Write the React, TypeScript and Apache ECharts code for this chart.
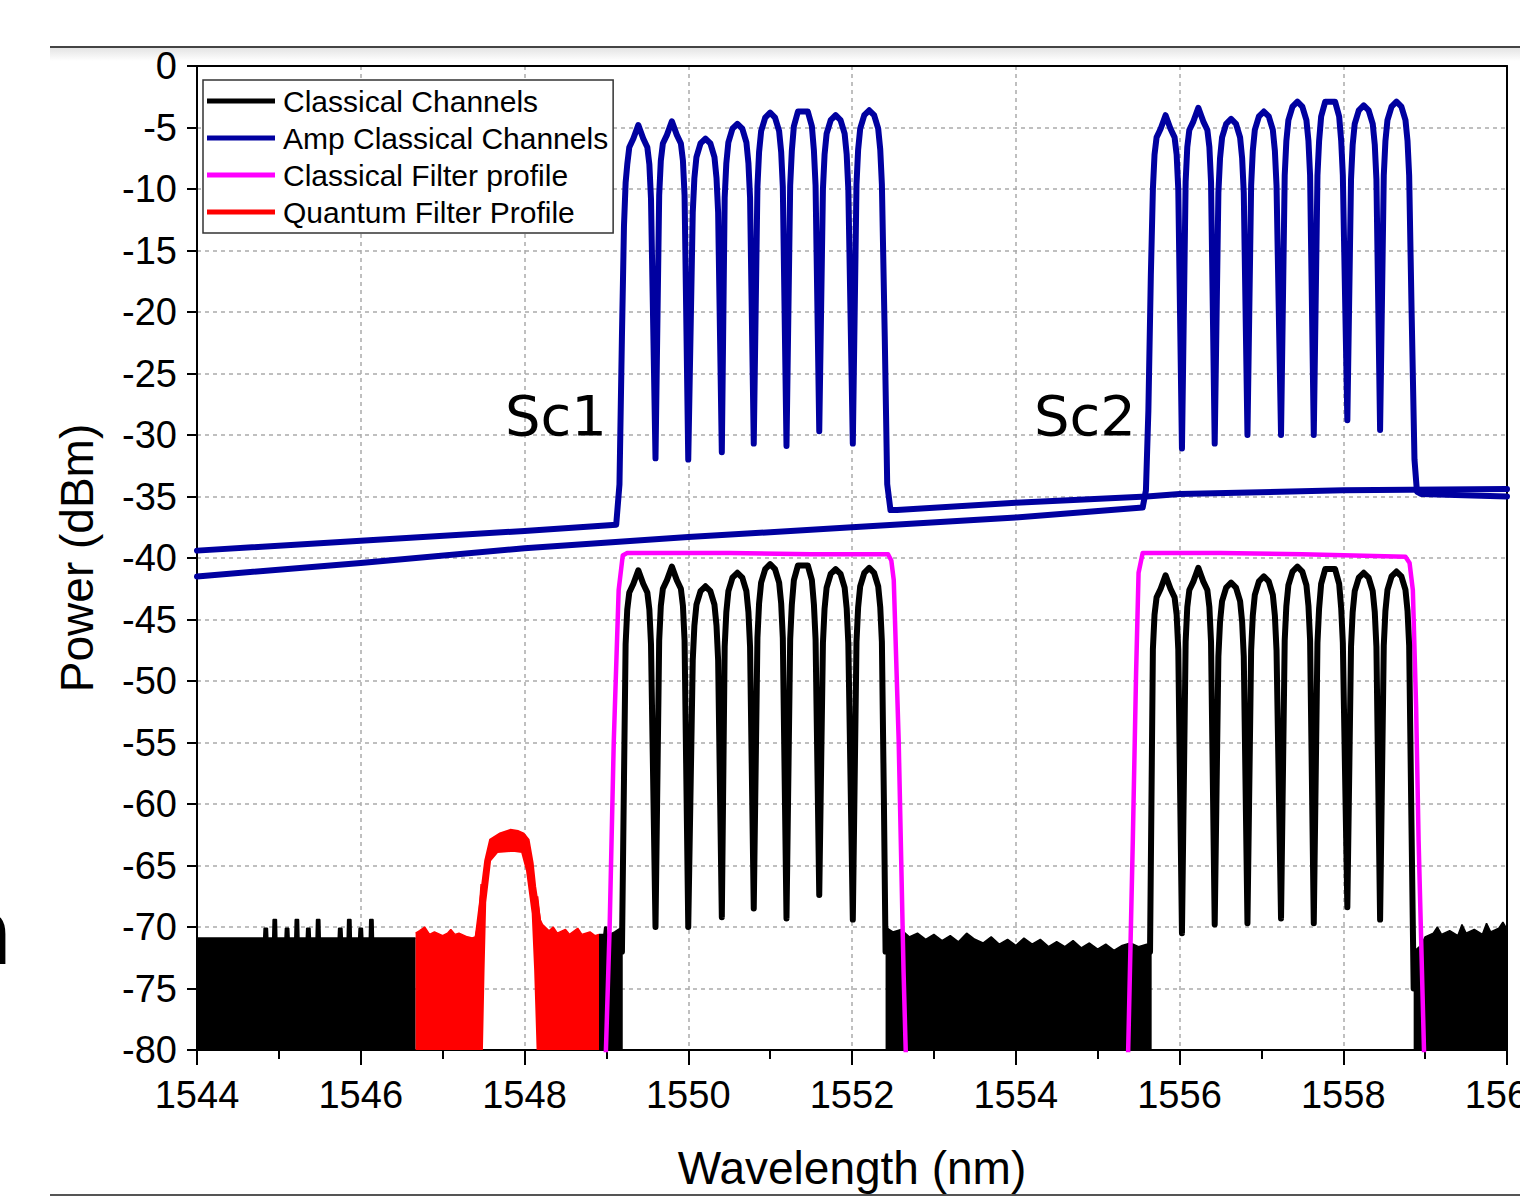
import React, { useEffect, useRef } from 'react';
import * as echarts from 'echarts';

type Pt = (number | string)[];

// Amplified classical channels: trace carrying sub-band Sc1
const blueTraceA: Pt[] = [
  [1544, -39.4], [1546, -38.6], [1548, -37.8], [1549.12, -37.3],
  [1549.16, -34.0], [1549.19, -22.0], [1549.215, -13.0],
  [1549.235, -9.5], [1549.255, -8.0], [1549.28, -6.6], [1549.33, -5.9], [1549.39, -4.8], [1549.45, -5.9], [1549.50, -6.6], [1549.525, -8.0], [1549.545, -10.8],
  [1549.60, -31.9],
  [1549.645, -10.5], [1549.665, -7.7], [1549.69, -6.3], [1549.74, -5.6], [1549.80, -4.5], [1549.86, -5.6], [1549.91, -6.3], [1549.935, -7.7], [1549.955, -10.5],
  [1550.00, -32.0],
  [1550.055, -11.9], [1550.075, -9.1], [1550.10, -7.4], [1550.15, -6.3], [1550.21, -5.9], [1550.27, -6.3], [1550.32, -7.4], [1550.345, -9.1], [1550.365, -11.9],
  [1550.41, -31.4],
  [1550.445, -10.7], [1550.465, -7.9], [1550.49, -6.2], [1550.54, -5.1], [1550.60, -4.7], [1550.66, -5.1], [1550.71, -6.2], [1550.735, -7.9], [1550.755, -10.7],
  [1550.80, -30.7],
  [1550.845, -9.8], [1550.865, -7.0], [1550.89, -5.3], [1550.94, -4.2], [1551.00, -3.8], [1551.06, -4.2], [1551.11, -5.3], [1551.135, -7.0], [1551.155, -9.8],
  [1551.20, -30.9],
  [1551.245, -9.7], [1551.265, -6.9], [1551.29, -4.9], [1551.34, -3.7], [1551.40, -3.7], [1551.46, -3.7], [1551.51, -4.9], [1551.535, -6.9], [1551.555, -9.7],
  [1551.60, -29.7],
  [1551.645, -10.0], [1551.665, -7.2], [1551.69, -5.5], [1551.74, -4.4], [1551.80, -4.0], [1551.86, -4.4], [1551.91, -5.5], [1551.935, -7.2], [1551.955, -10.0],
  [1552.01, -30.7],
  [1552.055, -9.6], [1552.075, -6.8], [1552.10, -5.1], [1552.15, -4.0], [1552.21, -3.6], [1552.27, -4.0], [1552.32, -5.1], [1552.345, -6.8], [1552.365, -9.6],
  [1552.40, -22.0], [1552.43, -34.0], [1552.47, -36.1], [1552.55, -36.1],
  [1554, -35.5], [1555.6, -35.0], [1556, -34.8], [1558, -34.5], [1560, -34.4],
];

// Amplified classical channels: trace carrying sub-band Sc2
const blueTraceB: Pt[] = [
  [1544, -41.5], [1546, -40.4], [1548, -39.2], [1550, -38.3], [1552, -37.5], [1554, -36.7], [1555.55, -35.9],
  [1555.59, -34.5], [1555.62, -28.0], [1555.65, -17.0],
  [1555.675, -10.0], [1555.695, -7.2], [1555.72, -5.8], [1555.77, -5.1], [1555.83, -4.0], [1555.89, -5.1], [1555.94, -5.8], [1555.965, -7.2], [1555.985, -10.0],
  [1556.03, -31.1],
  [1556.075, -9.4], [1556.095, -6.6], [1556.12, -5.2], [1556.17, -4.5], [1556.23, -3.4], [1556.29, -4.5], [1556.34, -5.2], [1556.365, -6.6], [1556.385, -9.4],
  [1556.43, -30.7],
  [1556.475, -10.3], [1556.495, -7.5], [1556.52, -5.8], [1556.57, -4.7], [1556.63, -4.3], [1556.69, -4.7], [1556.74, -5.8], [1556.765, -7.5], [1556.785, -10.3],
  [1556.83, -30.0],
  [1556.875, -9.7], [1556.895, -6.9], [1556.92, -5.2], [1556.97, -4.1], [1557.03, -3.7], [1557.09, -4.1], [1557.14, -5.2], [1557.165, -6.9], [1557.185, -9.7],
  [1557.24, -30.0],
  [1557.285, -8.9], [1557.305, -6.1], [1557.33, -4.4], [1557.38, -3.3], [1557.44, -2.9], [1557.50, -3.3], [1557.55, -4.4], [1557.575, -6.1], [1557.595, -8.9],
  [1557.64, -30.0],
  [1557.685, -8.9], [1557.705, -6.1], [1557.73, -4.1], [1557.78, -2.9], [1557.84, -2.9], [1557.90, -2.9], [1557.95, -4.1], [1557.975, -6.1], [1557.995, -8.9],
  [1558.05, -28.8],
  [1558.095, -9.2], [1558.115, -6.4], [1558.14, -4.7], [1558.19, -3.6], [1558.25, -3.2], [1558.31, -3.6], [1558.36, -4.7], [1558.385, -6.4], [1558.405, -9.2],
  [1558.45, -29.6],
  [1558.495, -8.9], [1558.515, -6.1], [1558.54, -4.4], [1558.59, -3.3], [1558.65, -2.9], [1558.71, -3.3], [1558.76, -4.4], [1558.785, -6.1], [1558.805, -8.9],
  [1558.835, -20.0], [1558.87, -32.0], [1558.90, -34.6], [1558.95, -34.8], [1560, -35.0],
];

// Classical channels (un-amplified), Sc1 and Sc2
const blackChannels: Pt[] = [
  [1549.19, -72.0], [1549.215, -58.0],
  [1549.235, -47.0], [1549.255, -44.2], [1549.28, -42.8], [1549.33, -42.1], [1549.39, -41.0], [1549.45, -42.1], [1549.50, -42.8], [1549.525, -44.2], [1549.545, -47.0],
  [1549.60, -70.0],
  [1549.645, -46.7], [1549.665, -43.9], [1549.69, -42.5], [1549.74, -41.8], [1549.80, -40.7], [1549.86, -41.8], [1549.91, -42.5], [1549.935, -43.9], [1549.955, -46.7],
  [1550.00, -70.0],
  [1550.055, -48.3], [1550.075, -45.5], [1550.10, -43.8], [1550.15, -42.7], [1550.21, -42.3], [1550.27, -42.7], [1550.32, -43.8], [1550.345, -45.5], [1550.365, -48.3],
  [1550.41, -69.2],
  [1550.445, -47.2], [1550.465, -44.4], [1550.49, -42.7], [1550.54, -41.6], [1550.60, -41.2], [1550.66, -41.6], [1550.71, -42.7], [1550.735, -44.4], [1550.755, -47.2],
  [1550.80, -68.5],
  [1550.845, -46.5], [1550.865, -43.7], [1550.89, -42.0], [1550.94, -40.9], [1551.00, -40.5], [1551.06, -40.9], [1551.11, -42.0], [1551.135, -43.7], [1551.155, -46.5],
  [1551.20, -69.3],
  [1551.245, -46.6], [1551.265, -43.8], [1551.29, -41.8], [1551.34, -40.6], [1551.40, -40.6], [1551.46, -40.6], [1551.51, -41.8], [1551.535, -43.8], [1551.555, -46.6],
  [1551.60, -67.4],
  [1551.645, -46.9], [1551.665, -44.1], [1551.69, -42.4], [1551.74, -41.3], [1551.80, -40.9], [1551.86, -41.3], [1551.91, -42.4], [1551.935, -44.1], [1551.955, -46.9],
  [1552.01, -69.4],
  [1552.055, -46.8], [1552.075, -44.0], [1552.10, -42.3], [1552.15, -41.2], [1552.21, -40.8], [1552.27, -41.2], [1552.32, -42.3], [1552.345, -44.0], [1552.365, -46.8],
  [1552.39, -60.0], [1552.41, -72.0],
  [1554, '-'],
  [1555.64, -72.0], [1555.66, -58.0],
  [1555.675, -47.4], [1555.695, -44.6], [1555.72, -43.2], [1555.77, -42.5], [1555.83, -41.4], [1555.89, -42.5], [1555.94, -43.2], [1555.965, -44.6], [1555.985, -47.4],
  [1556.03, -70.5],
  [1556.075, -46.8], [1556.095, -44.0], [1556.12, -42.6], [1556.17, -41.9], [1556.23, -40.8], [1556.29, -41.9], [1556.34, -42.6], [1556.365, -44.0], [1556.385, -46.8],
  [1556.43, -69.8],
  [1556.475, -48.0], [1556.495, -45.2], [1556.52, -43.5], [1556.57, -42.4], [1556.63, -42.0], [1556.69, -42.4], [1556.74, -43.5], [1556.765, -45.2], [1556.785, -48.0],
  [1556.83, -69.7],
  [1556.875, -47.5], [1556.895, -44.7], [1556.92, -43.0], [1556.97, -41.9], [1557.03, -41.5], [1557.09, -41.9], [1557.14, -43.0], [1557.165, -44.7], [1557.185, -47.5],
  [1557.24, -69.3],
  [1557.285, -46.7], [1557.305, -43.9], [1557.33, -42.2], [1557.38, -41.1], [1557.44, -40.7], [1557.50, -41.1], [1557.55, -42.2], [1557.575, -43.9], [1557.595, -46.7],
  [1557.64, -69.7],
  [1557.685, -46.9], [1557.705, -44.1], [1557.73, -42.1], [1557.78, -40.9], [1557.84, -40.9], [1557.90, -40.9], [1557.95, -42.1], [1557.975, -44.1], [1557.995, -46.9],
  [1558.05, -68.4],
  [1558.095, -47.2], [1558.115, -44.4], [1558.14, -42.7], [1558.19, -41.6], [1558.25, -41.2], [1558.31, -41.6], [1558.36, -42.7], [1558.385, -44.4], [1558.405, -47.2],
  [1558.45, -69.4],
  [1558.495, -47.1], [1558.515, -44.3], [1558.54, -42.6], [1558.59, -41.5], [1558.65, -41.1], [1558.71, -41.5], [1558.76, -42.6], [1558.785, -44.3], [1558.805, -47.1],
  [1558.83, -60.0], [1558.86, -75.0],
];

// Noise floor of the classical channel trace (drawn filled down to -80 dBm)
const blackNoiseFloor: Pt[] = [
  [1544, -70.9],
  [1544.815, -70.9], [1544.82, -70.1], [1544.86, -70.1], [1544.865, -70.9],
  [1544.925, -70.9], [1544.93, -69.4], [1544.97, -69.4], [1544.975, -70.9],
  [1545.075, -70.9], [1545.08, -70.1], [1545.12, -70.1], [1545.125, -70.9],
  [1545.195, -70.9], [1545.20, -69.4], [1545.24, -69.4], [1545.245, -70.9],
  [1545.335, -70.9], [1545.34, -70.1], [1545.38, -70.1], [1545.385, -70.9],
  [1545.455, -70.9], [1545.46, -69.4], [1545.50, -69.4], [1545.505, -70.9],
  [1545.725, -70.9], [1545.73, -70.1], [1545.77, -70.1], [1545.775, -70.9],
  [1545.835, -70.9], [1545.84, -69.4], [1545.88, -69.4], [1545.885, -70.9],
  [1545.975, -70.9], [1545.98, -70.1], [1546.02, -70.1], [1546.025, -70.9],
  [1546.105, -70.9], [1546.11, -69.4], [1546.15, -69.4], [1546.155, -70.9],
  [1546.67, -70.9],
  [1547.8, '-'],
  [1548.91, -70.6], [1548.97, -70.6], [1548.98, -70.0], [1549.0, -70.0], [1549.01, -70.7], [1549.1, -70.4], [1549.19, -70.0], [1549.2, -72.0],
  [1550.8, '-'],
  [1552.41, -70.0], [1552.5, -70.4], [1552.6, -70.2], [1552.7, -70.8], [1552.8, -70.5], [1552.9, -71.0], [1553.0, -70.6],
  [1553.1, -71.1], [1553.2, -70.7], [1553.3, -71.2], [1553.4, -70.5], [1553.5, -71.0], [1553.6, -71.3], [1553.7, -70.8],
  [1553.8, -71.4], [1553.9, -71.0], [1554.0, -71.5], [1554.1, -70.9], [1554.2, -71.4], [1554.3, -71.0], [1554.4, -71.6],
  [1554.5, -71.2], [1554.6, -71.6], [1554.7, -71.1], [1554.8, -71.7], [1554.9, -71.3], [1555.0, -71.8], [1555.1, -71.4],
  [1555.2, -71.9], [1555.3, -71.5], [1555.4, -71.3], [1555.5, -71.6], [1555.6, -71.4], [1555.66, -71.5],
  [1557.0, '-'],
  [1558.86, -72.0], [1558.95, -71.5], [1559.0, -70.8], [1559.1, -70.5], [1559.15, -70.0], [1559.2, -70.6], [1559.3, -70.3],
  [1559.4, -70.7], [1559.45, -69.8], [1559.5, -70.5], [1559.6, -70.2], [1559.7, -70.6], [1559.75, -69.7], [1559.8, -70.4],
  [1559.9, -70.1], [1559.95, -69.6], [1560, -70.2],
];

// Classical filter profile (two pass-bands)
const magentaFilter: Pt[] = [
  [1548.99, -81], [1549.04, -70], [1549.09, -55], [1549.15, -42.6], [1549.20, -39.8], [1549.25, -39.6],
  [1550.5, -39.6], [1551.5, -39.7], [1552.44, -39.7], [1552.48, -40.2], [1552.51, -41.8], [1552.57, -54.8],
  [1552.63, -73.7], [1552.66, -81],
  [1554, '-'],
  [1555.37, -81], [1555.43, -62.9], [1555.47, -49.3], [1555.50, -41.2], [1555.55, -39.6], [1556.5, -39.6],
  [1557.5, -39.7], [1558.76, -39.9], [1558.81, -40.4], [1558.85, -42.6], [1558.89, -52.1], [1558.92, -62.9], [1558.99, -81],
];

// Quantum filter profile: out-of-band noise (filled down to -80 dBm)
const redNoiseFloor: Pt[] = [
  [1546.67, -70.5], [1546.72, -70.3], [1546.78, -70.0], [1546.84, -70.6], [1546.9, -70.4], [1547.0, -70.7],
  [1547.06, -70.5], [1547.1, -70.2], [1547.15, -70.6], [1547.2, -70.5], [1547.3, -70.8], [1547.36, -70.9],
  [1547.40, -70.8], [1547.44, -69.5], [1547.47, -66.5],
  [1547.8, '-'],
  [1548.16, -67.5], [1548.19, -69.4], [1548.22, -69.8], [1548.3, -70.3], [1548.35, -70.0], [1548.4, -70.5],
  [1548.5, -70.2], [1548.55, -70.6], [1548.65, -70.1], [1548.7, -70.6], [1548.8, -70.4], [1548.86, -70.7], [1548.91, -70.6],
];

// Quantum filter pass-band: upper envelope then lower envelope (noisy band)
const redPassband: number[][] = [
  [1547.40, -71.0], [1547.46, -67.8], [1547.52, -64.6], [1547.58, -62.9], [1547.70, -62.4], [1547.83, -62.1],
  [1547.92, -62.2], [1547.99, -62.4], [1548.05, -62.9], [1548.10, -64.8], [1548.13, -66.7], [1548.19, -69.4], [1548.21, -71.0],
  [1548.16, -80], [1548.13, -73.5], [1548.10, -68.9], [1548.03, -65.4], [1547.97, -63.9], [1547.86, -63.8],
  [1547.67, -63.9], [1547.58, -64.6], [1547.52, -68.0], [1547.50, -73.5], [1547.48, -80],
];

const legendNames = ['Classical Channels', 'Amp Classical Channels', 'Classical Filter profile', 'Quantum Filter Profile'];
const bandLabels = [
  { text: 'Sc1', x: 556 },
  { text: 'Sc2', x: 1085 },
];

const FONT = '"Liberation Sans", Arial, Helvetica, sans-serif';
const BLUE = '#0000a0';
const BLACK = '#000000';
const MAGENTA = '#ff00ff';
const RED = '#ff0000';

export default function App() {
  const ref = useRef<HTMLDivElement>(null);

  useEffect(() => {
    if (!ref.current) return;
    const chart = echarts.init(ref.current, null, { renderer: 'svg' });

    const lineBase = {
      type: 'line',
      showSymbol: false,
      symbol: 'none',
      connectNulls: false,
      clip: true,
      emphasis: { disabled: true },
    };

    const frameAxis = {
      type: 'value',
      axisLine: { show: true, onZero: false, lineStyle: { color: '#000', width: 2 } },
      axisTick: { show: false },
      axisLabel: { show: false },
      splitLine: { show: false },
    };

    const option: any = {
      animation: false,
      backgroundColor: '#ffffff',
      grid: {
        left: 197,
        right: 13,
        top: 66,
        bottom: 147,
        show: false,
        containLabel: false,
        outerBoundsMode: 'none',
      },
      legend: {
        data: legendNames,
        orient: 'vertical',
        left: 203,
        top: 80,
        padding: [6, 5, 6, 4],
        itemWidth: 68,
        itemHeight: 30,
        itemGap: 7,
        icon: 'path://M0 0H68V5H0Z',
        selectedMode: false,
        backgroundColor: '#ffffff',
        borderColor: '#333',
        borderWidth: 1.5,
        textStyle: { fontSize: 30, color: '#000', fontFamily: FONT, padding: [0, 0, 0, 3] },
      },
      xAxis: [
        {
          type: 'value',
          min: 1544,
          max: 1560,
          interval: 2,
          position: 'bottom',
          axisLine: { show: true, onZero: false, lineStyle: { color: '#000', width: 2 } },
          axisTick: { show: true, inside: false, length: 15, lineStyle: { color: '#000', width: 2 } },
          minorTick: { show: true, splitNumber: 2, length: 9, lineStyle: { color: '#000', width: 2 } },
          axisLabel: {
            fontSize: 38,
            color: '#000',
            margin: 26,
            fontFamily: FONT,
            showMaxLabel: true,
            showMinLabel: true,
            hideOverlap: false,
            formatter: (v: number) => String(v),
          },
          splitLine: { show: true, showMinLine: false, showMaxLine: false, lineStyle: { color: '#aaaaaa', type: [4, 4], width: 1.5 } },
          name: 'Wavelength (nm)',
          nameLocation: 'middle',
          nameGap: 95,
          nameTextStyle: { fontSize: 46, color: '#000', fontFamily: FONT },
        },
        { ...frameAxis, min: 1544, max: 1560, position: 'top' },
      ],
      yAxis: [
        {
          type: 'value',
          min: -80,
          max: 0,
          interval: 5,
          position: 'left',
          axisLine: { show: true, onZero: false, lineStyle: { color: '#000', width: 2 } },
          axisTick: { show: true, inside: false, length: 10, lineStyle: { color: '#000', width: 2 } },
          axisLabel: { fontSize: 38, color: '#000', margin: 20, fontFamily: FONT, formatter: (v: number) => String(v) },
          splitLine: { show: true, showMinLine: false, showMaxLine: false, lineStyle: { color: '#aaaaaa', type: [4, 4], width: 1.5 } },
          name: 'Power (dBm)',
          nameLocation: 'middle',
          nameRotate: 90,
          nameGap: 97,
          nameTextStyle: { fontSize: 46, color: '#000', fontFamily: FONT },
        },
        { ...frameAxis, min: -80, max: 0, position: 'right' },
      ],
      series: [
        {
          ...lineBase,
          name: 'Classical Channels',
          data: blackChannels,
          z: 6,
          lineStyle: { color: BLACK, width: 6, join: 'round', cap: 'round' },
          itemStyle: { color: BLACK },
        },
        {
          ...lineBase,
          name: 'Amp Classical Channels',
          data: blueTraceA,
          z: 7,
          lineStyle: { color: BLUE, width: 6, join: 'round', cap: 'round' },
          itemStyle: { color: BLUE },
        },
        {
          ...lineBase,
          name: 'Amp Classical Channels',
          data: blueTraceB,
          z: 7,
          lineStyle: { color: BLUE, width: 6, join: 'round', cap: 'round' },
          itemStyle: { color: BLUE },
        },
        {
          ...lineBase,
          name: 'Classical Filter profile',
          data: magentaFilter,
          z: 5,
          lineStyle: { color: MAGENTA, width: 4.5, join: 'round' },
          itemStyle: { color: MAGENTA },
        },
        {
          ...lineBase,
          name: 'Quantum Filter Profile',
          data: redNoiseFloor,
          z: 3,
          lineStyle: { color: RED, width: 1.5 },
          itemStyle: { color: RED },
          areaStyle: { color: RED, opacity: 1, origin: 'start' },
        },
        {
          type: 'custom',
          name: 'Quantum Filter Profile',
          coordinateSystem: 'cartesian2d',
          data: [[1547.8, -63]],
          z: 3,
          silent: true,
          clip: true,
          itemStyle: { color: RED },
          renderItem: (params: any, api: any) => {
            if (params.dataIndex !== 0) return null;
            const pts = redPassband.map((p) => api.coord(p));
            return {
              type: 'polygon',
              shape: { points: pts },
              style: { fill: RED, stroke: RED, lineWidth: 2 },
            };
          },
        },
        {
          ...lineBase,
          name: 'Classical Channels',
          data: blackNoiseFloor,
          z: 2,
          lineStyle: { color: BLACK, width: 1.5 },
          itemStyle: { color: BLACK },
          areaStyle: { color: BLACK, opacity: 1, origin: 'start' },
        },
      ],
      graphic: [
        {
          type: 'rect',
          silent: true,
          z: -10,
          shape: { x: 50, y: 48, width: 1470, height: 13 },
          style: {
            fill: new echarts.graphic.LinearGradient(0, 0, 0, 1, [
              { offset: 0, color: '#e4e4e4' },
              { offset: 1, color: '#ffffff' },
            ]),
          },
        },
        {
          type: 'line',
          silent: true,
          shape: { x1: 50, y1: 47, x2: 1520, y2: 47 },
          style: { stroke: '#444', lineWidth: 2 },
        },
        {
          type: 'line',
          silent: true,
          shape: { x1: 50, y1: 1195, x2: 1520, y2: 1195 },
          style: { stroke: '#555', lineWidth: 2 },
        },
        ...bandLabels.map((b) => ({
          type: 'text',
          silent: true,
          x: b.x,
          y: 415,
          z: 10,
          style: {
            text: b.text,
            font: '56px "DejaVu Sans", Verdana, sans-serif',
            fill: '#000',
            align: 'center',
            verticalAlign: 'middle',
            textAlign: 'center',
            textVerticalAlign: 'middle',
          },
        })),
        {
          type: 'text',
          silent: true,
          x: -44,
          y: 932,
          style: {
            text: 'n',
            font: '90px "DejaVu Sans", Verdana, sans-serif',
            fill: '#000',
            align: 'left',
            verticalAlign: 'middle',
            textAlign: 'left',
            textVerticalAlign: 'middle',
          },
        },
      ],
    };

    chart.setOption(option);
    return () => chart.dispose();
  }, []);

  return (
    <div
      ref={ref}
      style={{ position: 'fixed', left: 0, top: 0, width: 1520, height: 1197, background: '#fff' }}
    />
  );
}
